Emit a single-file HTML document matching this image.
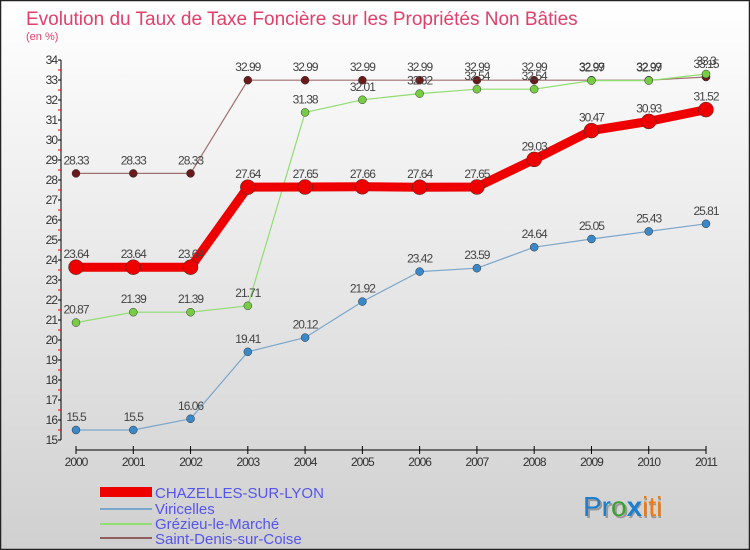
<!DOCTYPE html>
<html><head><meta charset="utf-8"><style>
body{margin:0;width:750px;height:550px;overflow:hidden;font-family:"Liberation Sans",sans-serif}
svg{display:block}
</style></head><body>
<svg id="chart" width="750" height="550" xmlns="http://www.w3.org/2000/svg">
<defs><linearGradient id="bg" x1="0" y1="0" x2="0" y2="1"><stop offset="0" stop-color="#ffffff"/><stop offset="1" stop-color="#d0d0d0"/></linearGradient></defs>
<rect x="0.5" y="0.5" width="749" height="549" fill="url(#bg)" stroke="#222" stroke-width="1.5"/>
<text x="26" y="25" font-size="19" fill="#e0406a">Evolution du Taux de Taxe Foncière sur les Propriétés Non Bâties</text>
<text x="26" y="40" font-size="11" fill="#e0406a">(en %)</text>
<g id="axes"></g>
<g id="series"></g>
<g>
<rect x="100" y="487" width="52" height="10" fill="#ee0000"/>
<line x1="100" y1="509" x2="152" y2="509" stroke="#7ba7cc" stroke-width="2"/>
<line x1="100" y1="524" x2="152" y2="524" stroke="#90dd70" stroke-width="2"/>
<line x1="100" y1="538" x2="152" y2="538" stroke="#906060" stroke-width="2"/>
<g font-size="15" fill="#5555ee">
<text x="155" y="498">CHAZELLES-SUR-LYON</text>
<text x="155" y="514">Viricelles</text>
<text x="155" y="529">Grézieu-le-Marché</text>
<text x="155" y="544">Saint-Denis-sur-Coise</text>
</g></g>
<text x="585" y="518" font-size="28" fill="#999">Proxiti</text>
<text x="583" y="516" font-size="28"><tspan fill="#1a7fd0">Pr</tspan><tspan fill="#3aa030">o</tspan><tspan fill="#1a7fd0" font-weight="bold">x</tspan><tspan fill="#f07a10">iti</tspan></text>
</svg>
<script>
const years=["2000","2001","2002","2003","2004","2005","2006","2007","2008","2009","2010","2011"];
const yTicks=[15,16,17,18,19,20,21,22,23,24,25,26,27,28,29,30,31,32,33,34];
const saintDenis=[28.33,28.33,28.33,32.99,32.99,32.99,32.99,32.99,32.99,32.99,32.99,33.15];
const grezieu=[20.87,21.39,21.39,21.71,31.38,32.01,32.32,32.54,32.54,32.97,32.97,33.3];
const viricelles=[15.5,15.5,16.06,19.41,20.12,21.92,23.42,23.59,24.64,25.05,25.43,25.81];
const chazelles=[23.64,23.64,23.64,27.64,27.65,27.66,27.64,27.65,29.03,30.47,30.93,31.52];
const NS="http://www.w3.org/2000/svg";
const x=i=>76+i*(630/11);
const y=v=>440-(v-15)*20;
function mk(t,a,p){const e=document.createElementNS(NS,t);for(const k in a)e.setAttribute(k,a[k]);p.appendChild(e);return e;}
const ax=document.getElementById('axes');
const yl=mk('line',{x1:61,y1:y(34),x2:61,y2:y(15),stroke:'#000'},ax);


yTicks.forEach(v=>{
 mk('line',{x1:58,x2:61,y1:y(v),y2:y(v),stroke:'#000'},ax);
 if(v<34) mk('line',{x1:58,x2:61,y1:y(v+0.5),y2:y(v+0.5),stroke:'#e00'},ax);
 const t=mk('text',{x:57,y:y(v)+4,'text-anchor':'end','font-size':12,fill:'#333','letter-spacing':'-1'},ax);
 t.textContent=v;
 
 
});
const xl=mk('line',{x1:x(0),y1:450,x2:x(11),y2:450,stroke:'#000'},ax);


years.forEach((yr,i)=>{
 mk('line',{x1:x(i),x2:x(i),y1:446,y2:454,stroke:'#000'},ax);
 const t=mk('text',{x:x(i),y:466,'text-anchor':'middle','font-size':12,fill:'#333','letter-spacing':'-1'},ax);
 t.textContent=yr;
 
 
});
const sg=document.getElementById('series');
function series(vals,name,lc,pc,w,r){
 const g=mk('g',{},sg);
 
 
 const pl=mk('polyline',{points:vals.map((v,i)=>x(i)+','+y(v)).join(' '),fill:'none',stroke:lc,'stroke-width':w,'stroke-linejoin':'round'},g);
 
 
 vals.forEach((v,i)=>{
  const c=mk('circle',{cx:x(i),cy:y(v),r:r,fill:pc,stroke:'#333','stroke-width':0.5},g);
  
  
  const t=mk('text',{x:x(i),y:y(v)-9,'text-anchor':'middle','font-size':12,fill:'#444','letter-spacing':'-1'},g);
  t.textContent=v;
  
  
 });
}
series(saintDenis,'saint-denis','#a07070','#6a1a1a',1.2,4);
series(grezieu,'grezieu','#90dd70','#77cc44',1.2,4);
series(viricelles,'viricelles','#7ba7cc','#3a88c8',1.2,4);
series(chazelles,'chazelles','#ee0000','#ee0000',9,7.5);
</script>
</body></html>
